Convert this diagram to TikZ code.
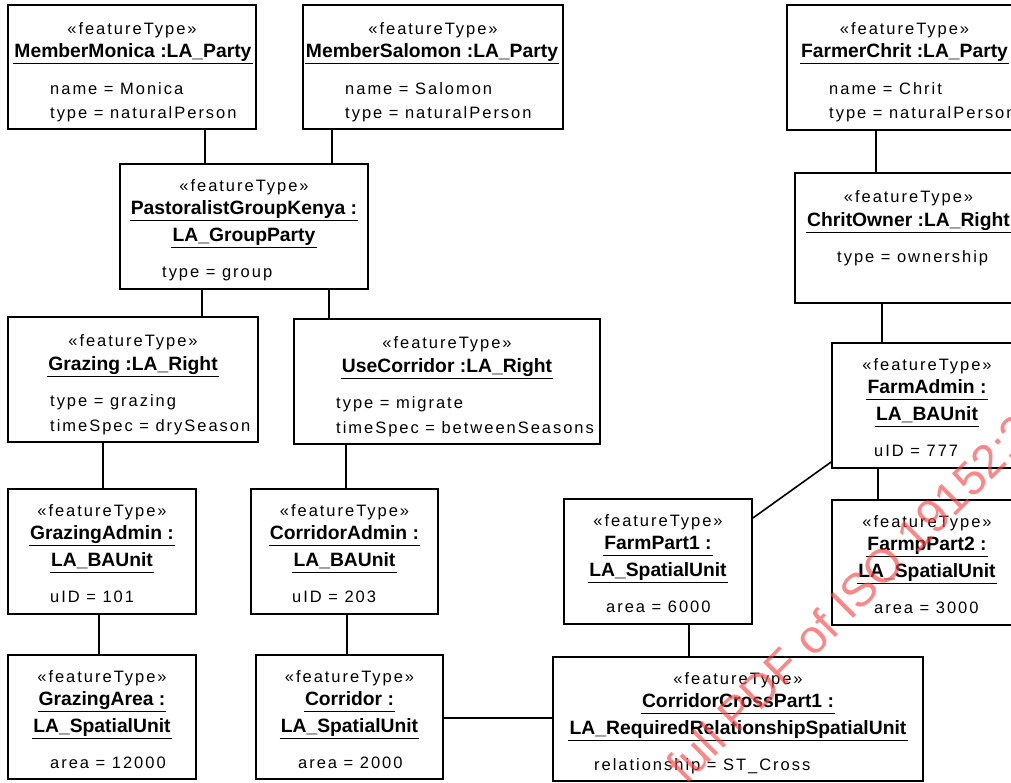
\documentclass[tikz,border=0pt]{standalone}
\usepackage{fontspec}
\setmainfont{Liberation Sans}
\newfontfamily\spfont[LetterSpace=12]{Liberation Sans}
\usetikzlibrary{fit}
\definecolor{wmred}{RGB}{255,70,70}
\tikzset{
  objbox/.style={draw=black, line width=1.8pt, fill=white, inner sep=0pt},
  conn/.style={draw=black, line width=1.6pt},
  ulin/.style={draw=black, line width=1.3pt},
  stereo/.style={anchor=base, inner sep=0pt, font=\spfont\fontsize{16.5}{18}\selectfont},
  attr/.style={anchor=base west, inner sep=0pt, font=\spfont\fontsize{16.5}{18}\selectfont},
  oname/.style={anchor=base, inner xsep=1pt, inner ysep=0pt, font=\bfseries\fontsize{19.3}{22}\selectfont},
  wm/.style={rotate=45, anchor=base west, inner sep=0pt, text=wmred, text opacity=0.65, font=\fontsize{47}{50}\selectfont},
}
\newcommand{\stereo}[2]{\node[stereo] (#1) at (#2) {«featureType»};}
\newcommand{\oname}[3]{\node[oname] (#1) at (#2) {#3};
  \draw[ulin] ([yshift=-6.5pt]#1.base west) -- ([yshift=-6.5pt]#1.base east);}
\newcommand{\attr}[3]{\node[attr] (#1) at (#2) {#3};}
\begin{document}
\begin{tikzpicture}[x=1pt, y=-1pt]
\useasboundingbox (0,0) rectangle (1011,782);
\fill[white] (0,0) rectangle (1011,782);
\clip (0,0) rectangle (1011,782);

% ---------- boxes ----------
\node[objbox, fit={(8,5) (256,129)}] (monica) {};
\node[objbox, fit={(303,5) (563,129)}] (salomon) {};
\node[objbox, fit={(787,5) (1022,130)}] (chrit) {};
\node[objbox, fit={(120,164) (368,289)}] (pgk) {};
\node[objbox, fit={(795,173) (1022,303)}] (chritown) {};
\node[objbox, fit={(8,317) (258,442)}] (grazing) {};
\node[objbox, fit={(294,319) (600,444)}] (usecorr) {};
\node[objbox, fit={(832,343) (1022,468)}] (farmadmin) {};
\node[objbox, fit={(8,489) (196,614)}] (grazadmin) {};
\node[objbox, fit={(251,489) (438,614)}] (corradmin) {};
\node[objbox, fit={(564,499) (752,624)}] (fp1) {};
\node[objbox, fit={(832,500) (1022,625)}] (fp2) {};
\node[objbox, fit={(8,655) (196,779)}] (grazarea) {};
\node[objbox, fit={(256,655) (443,779)}] (corr) {};
\node[objbox, fit={(553,657) (923,781)}] (ccp) {};

% ---------- texts ----------
% MemberMonica (top 5)
\stereo{monica-st}{132,34}
\oname{monica-nm}{133,57}{MemberMonica :LA\_Party}
\attr{monica-a1}{50,94}{name = Monica}
\attr{monica-a2}{50,118}{type = naturalPerson}
% MemberSalomon
\stereo{salomon-st}{433,34}
\oname{salomon-nm}{432,57}{MemberSalomon :LA\_Party}
\attr{salomon-a1}{345,94}{name = Salomon}
\attr{salomon-a2}{345,118}{type = naturalPerson}
% FarmerChrit
\stereo{chrit-st}{904.5,34}
\oname{chrit-nm}{904.5,57}{FarmerChrit :LA\_Party}
\attr{chrit-a1}{829,94}{name = Chrit}
\attr{chrit-a2}{829,118}{type = naturalPerson}
% PastoralistGroupKenya (top 164)
\stereo{pgk-st}{244,191}
\oname{pgk-n1}{244,214}{PastoralistGroupKenya :}
\oname{pgk-n2}{244,241}{LA\_GroupParty}
\attr{pgk-a1}{162,277}{type = group}
% ChritOwner (top 173)
\stereo{chritown-st}{908.5,202}
\oname{chritown-nm}{908.5,226}{ChritOwner :LA\_Right}
\attr{chritown-a1}{837,262}{type = ownership}
% Grazing (top 317)
\stereo{grazing-st}{133,346}
\oname{grazing-nm}{133,370}{Grazing :LA\_Right}
\attr{grazing-a1}{50,406}{type = grazing}
\attr{grazing-a2}{50,431}{timeSpec = drySeason}
% UseCorridor (top 319)
\stereo{usecorr-st}{447,348}
\oname{usecorr-nm}{447,372}{UseCorridor :LA\_Right}
\attr{usecorr-a1}{336,408}{type = migrate}
\attr{usecorr-a2}{336,433}{timeSpec = betweenSeasons}
% FarmAdmin (top 343)
\stereo{farmadmin-st}{927,370}
\oname{farmadmin-n1}{927,393}{FarmAdmin :}
\oname{farmadmin-n2}{927,420}{LA\_BAUnit}
\attr{farmadmin-a1}{874,456}{uID = 777}
% GrazingAdmin (top 489)
\stereo{grazadmin-st}{102,516}
\oname{grazadmin-n1}{102,539}{GrazingAdmin :}
\oname{grazadmin-n2}{102,566}{LA\_BAUnit}
\attr{grazadmin-a1}{50,602}{uID = 101}
% CorridorAdmin (top 489)
\stereo{corradmin-st}{344.5,516}
\oname{corradmin-n1}{344.5,539}{CorridorAdmin :}
\oname{corradmin-n2}{344.5,566}{LA\_BAUnit}
\attr{corradmin-a1}{292,602}{uID = 203}
% FarmPart1 (top 499)
\stereo{fp1-st}{658,526}
\oname{fp1-n1}{658,549}{FarmPart1 :}
\oname{fp1-n2}{658,576}{LA\_SpatialUnit}
\attr{fp1-a1}{606,612}{area = 6000}
% FarmpPart2 (top 500)
\stereo{fp2-st}{927,527}
\oname{fp2-n1}{927,550}{FarmpPart2 :}
\oname{fp2-n2}{927,577}{LA\_SpatialUnit}
\attr{fp2-a1}{874,613}{area = 3000}
% GrazingArea (top 655)
\stereo{grazarea-st}{102,682}
\oname{grazarea-n1}{102,705}{GrazingArea :}
\oname{grazarea-n2}{102,732}{LA\_SpatialUnit}
\attr{grazarea-a1}{50,768}{area = 12000}
% Corridor (top 655)
\stereo{corr-st}{349.5,682}
\oname{corr-n1}{349.5,705}{Corridor :}
\oname{corr-n2}{349.5,732}{LA\_SpatialUnit}
\attr{corr-a1}{298,768}{area = 2000}
% CorridorCrossPart1 (top 657)
\stereo{ccp-st}{738,684}
\oname{ccp-n1}{738,707}{CorridorCrossPart1 :}
\oname{ccp-n2}{738,734}{LA\_RequiredRelationshipSpatialUnit}
\attr{ccp-a1}{594,770}{relationship = ST\_Cross}

% ---------- connectors ----------
\draw[conn] (monica.south -| 205,0) -- (pgk.north -| 205,0);
\draw[conn] (salomon.south -| 332,0) -- (pgk.north -| 332,0);
\draw[conn] (chrit.south -| 876,0) -- (chritown.north -| 876,0);
\draw[conn] (chritown.south -| 882,0) -- (farmadmin.north -| 882,0);
\draw[conn] (pgk.south -| 202,0) -- (grazing.north -| 202,0);
\draw[conn] (pgk.south -| 329,0) -- (usecorr.north -| 329,0);
\draw[conn] (grazing.south -| 103,0) -- (grazadmin.north -| 103,0);
\draw[conn] (usecorr.south -| 346,0) -- (corradmin.north -| 346,0);
\draw[conn] (grazadmin.south -| 99,0) -- (grazarea.north -| 99,0);
\draw[conn] (corradmin.south -| 347,0) -- (corr.north -| 347,0);
\draw[conn] (farmadmin.south -| 878,0) -- (fp2.north -| 878,0);
\draw[conn] (fp1.east |- 0,518) -- (farmadmin.west |- 0,462);
\draw[conn] (fp1.south -| 689,0) -- (ccp.north -| 689,0);
\draw[conn] (corr.east |- 0,718) -- (ccp.west |- 0,718);

% ---------- watermark ----------
\node[wm] (wmark) at (686,786) {full PDF of ISO 19152:2012};
\end{tikzpicture}
\end{document}
